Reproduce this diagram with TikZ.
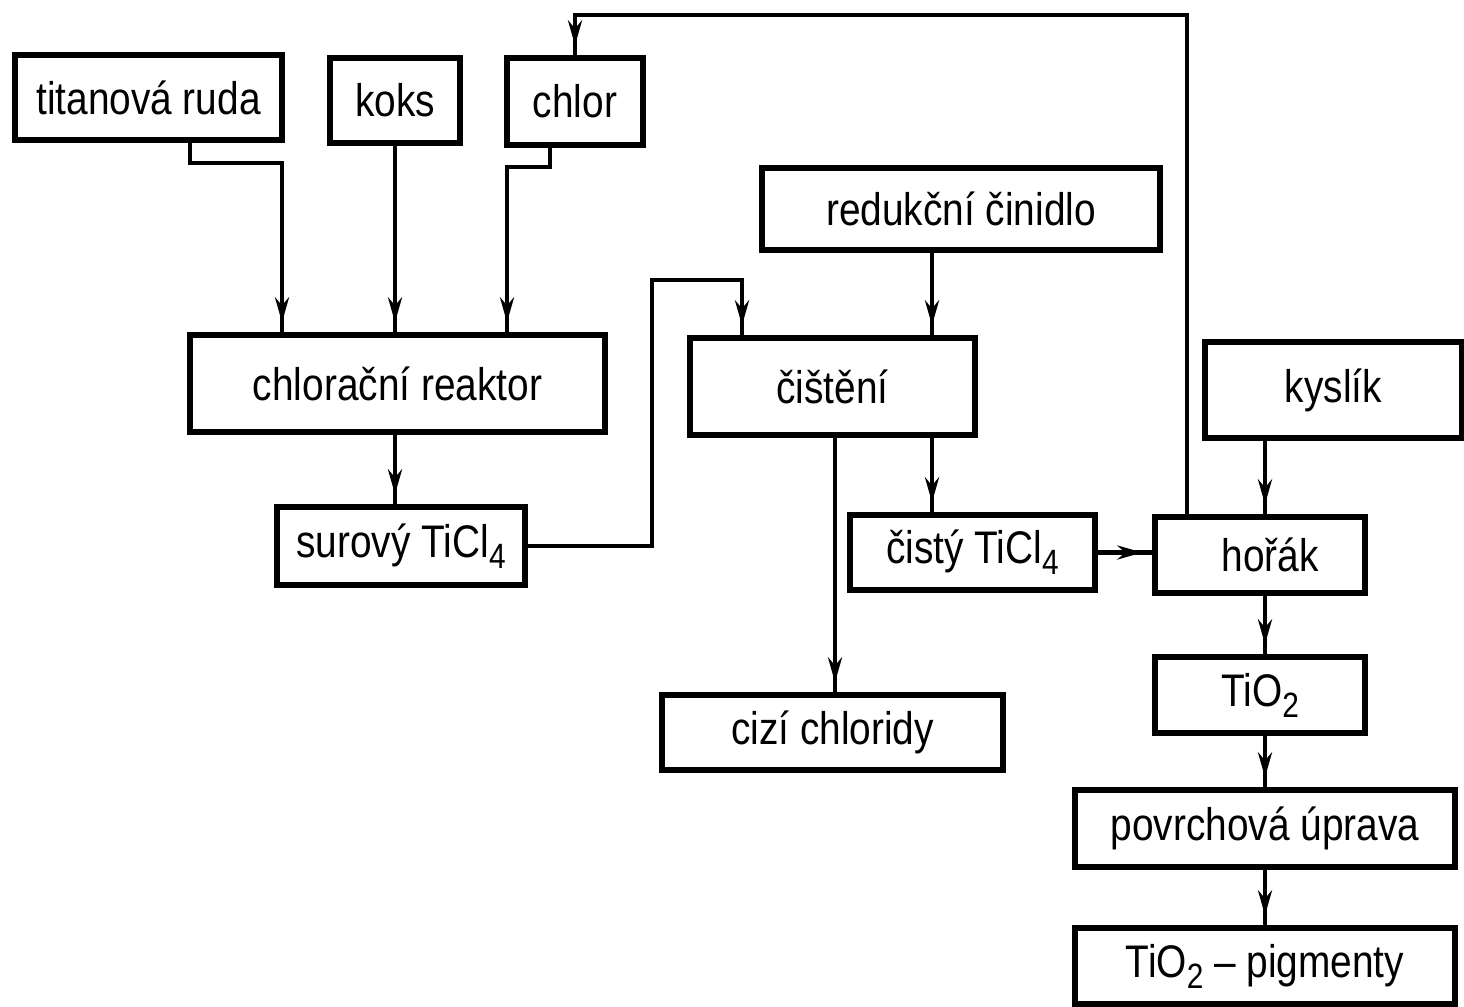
\documentclass[tikz,border=0pt]{standalone}
\usepackage{fontspec}
\setmainfont{Liberation Sans}[FakeStretch=0.85]
\usetikzlibrary{arrows.meta,decorations.markings}

\newcommand{\idx}[1]{\raisebox{-0.45ex}{\fontsize{10}{10}\selectfont #1}}

\begin{document}
\begin{tikzpicture}[
            box/.style={rectangle, draw, line width=1.5pt, inner sep=0pt, font=\fontsize{13}{15}\selectfont},
            flow/.style={line width=1.3pt, postaction={decorate},
                decoration={markings, mark=at position -1mm with {\arrow{Stealth[length=2.5mm,width=1.4mm]}}}}
        ]
        \useasboundingbox (0,0) rectangle (14.64,-10.06);

        % Nodes
        \node[box, minimum width=2.67cm, minimum height=0.85cm] (ruda) at (1.485,-0.975) {titanová ruda};
        \node[box, minimum width=1.30cm, minimum height=0.85cm] (koks) at (3.95,-1.005) {koks};
        \node[box, minimum width=1.36cm, minimum height=0.87cm] (chlor) at (5.75,-1.015) {chlor};
        \node[box, minimum width=3.98cm, minimum height=0.82cm] (cinidlo) at (9.61,-2.09) {redukční činidlo};
        \node[box, minimum width=4.15cm, minimum height=0.97cm] (reaktor) at (3.975,-3.835) {chlorační reaktor};
        \node[box, minimum width=2.85cm, minimum height=0.97cm] (cisteni) at (8.325,-3.865) {čištění};
        \node[box, minimum width=2.57cm, minimum height=0.96cm] (kyslik) at (13.335,-3.90) {kyslík};
        \node[box, minimum width=2.48cm, minimum height=0.78cm] (surovy) at (4.01,-5.46) {surový TiCl\idx{4}};
        \node[box, minimum width=2.45cm, minimum height=0.75cm] (cisty) at (9.725,-5.525) {čistý TiCl\idx{4}};
        \node[box, minimum width=2.10cm, minimum height=0.76cm] (horak) at (12.60,-5.55) {\hspace{2mm}hořák};
        \node[box, minimum width=2.10cm, minimum height=0.76cm] (oxid) at (12.60,-6.95) {TiO\idx{2}};
        \node[box, minimum width=3.41cm, minimum height=0.75cm] (cizi) at (8.325,-7.325) {cizí chloridy};
        \node[box, minimum width=3.80cm, minimum height=0.77cm] (uprava) at (12.65,-8.285) {povrchová úprava};
        \node[box, minimum width=3.80cm, minimum height=0.76cm] (pigment) at (12.65,-9.66) {TiO\idx{2} -- pigmenty};

        % Bends and vertical lines
        \coordinate (b1) at (2.82,-1.63);
        \coordinate (b2) at (5.07,-1.67);
        \coordinate (b3) at (6.52,-2.80);
        \coordinate (b4) at (11.87,-0.15);
        \coordinate (xc) at (7.42,0);
        \coordinate (xd) at (8.35,0);
        \coordinate (xr) at (9.32,0);
        \coordinate (xk) at (12.65,0);

        % Edges
        \draw[flow] ([xshift=4.15mm]ruda.south) |- (b1) -- (b1 |- reaktor.north);
        \draw[flow] (koks.south) -- (koks.south |- reaktor.north);
        \draw[flow] ([xshift=-2.5mm]chlor.south) |- (b2) -- (b2 |- reaktor.north);
        \draw[flow] (reaktor.south -| koks.south) -- (surovy.north -| koks.south);
        \draw[flow] (surovy.east) -| (b3) -| (cisteni.north -| xc);
        \draw[flow] (cinidlo.south -| xr) -- (cisteni.north -| xr);
        \draw[flow] (cisteni.south -| xr) -- (cisty.north -| xr);
        \draw[flow] (cisteni.south -| xd) -- (cizi.north -| xd);
        \draw[flow] (cisty.east) -- (cisty.east -| horak.west);
        \draw[flow] (horak.north -| b4) -- (b4) -| (chlor.north);
        \draw[flow] (kyslik.south -| xk) -- (horak.north -| xk);
        \draw[flow] (horak.south -| xk) -- (oxid.north -| xk);
        \draw[flow] (oxid.south -| xk) -- (uprava.north -| xk);
        \draw[flow] (uprava.south -| xk) -- (pigment.north -| xk);

\end{tikzpicture}
\end{document}
